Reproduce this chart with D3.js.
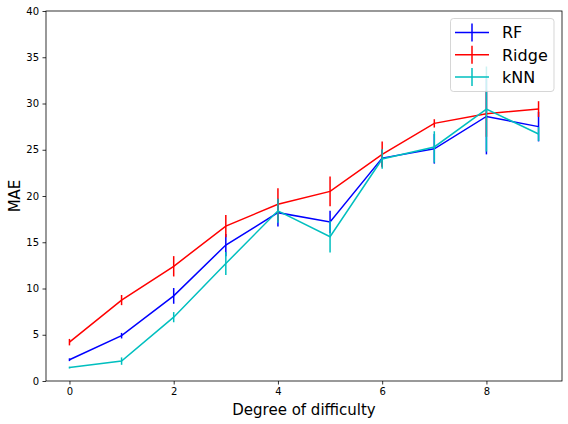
<!DOCTYPE html>
<html>
<head>
<meta charset="utf-8">
<script src="https://cdn.jsdelivr.net/npm/d3@7"></script>
<style>
  html, body { margin: 0; padding: 0; background: #fff; }
  svg { display: block; font-family: "DejaVu Sans", sans-serif; }
</style>
</head>
<body>
<svg id="chart" width="568" height="424"></svg>
<script>
// ---- data ----
const difficulty = [0, 1, 2, 3, 4, 5, 6, 7, 8, 9];
const rfMean    = [2.3, 4.9, 9.2, 14.7, 18.2, 17.2, 24.1, 25.1, 28.6, 27.5];
const rfErr     = [0.15, 0.3, 0.85, 1.2, 1.5, 1.2, 0.9, 1.6, 4.1, 1.6];
const ridgeMean = [4.2, 8.75, 12.4, 16.75, 19.1, 20.5, 24.5, 27.85, 28.9, 29.4];
const ridgeErr  = [0.35, 0.55, 1.1, 1.2, 1.75, 1.6, 1.4, 0.45, 2.5, 0.85];
const knnMean   = [1.45, 2.15, 6.9, 12.7, 18.4, 15.6, 24.0, 25.3, 29.4, 26.7];
const knnErr    = [0.1, 0.4, 0.55, 1.25, 1.3, 1.7, 1.05, 1.7, 4.6, 0.75];
const seriesNames  = ["RF", "Ridge", "kNN"];
const seriesColors = ["#0000ff", "#ff0000", "#00bfbf"];
const xTicks = [0, 2, 4, 6, 8];
const yTicks = [0, 5, 10, 15, 20, 25, 30, 35, 40];

const series = [
  { name: seriesNames[0], color: seriesColors[0], mean: rfMean, err: rfErr },
  { name: seriesNames[1], color: seriesColors[1], mean: ridgeMean, err: ridgeErr },
  { name: seriesNames[2], color: seriesColors[2], mean: knnMean, err: knnErr }
];

// ---- layout ----
const svg = d3.select("#chart");
const L = 46, R = 562, T = 11, B = 381;
const x = d3.scaleLinear().domain([-0.45, 9.45]).range([L, R]);
const y = d3.scaleLinear().domain([0, 40]).range([B, T]);

const plot = svg.append("g");

// series
series.forEach(s => {
  const g = plot.append("g");
  const line = d3.line().x((d, i) => x(difficulty[i])).y(d => y(d));
  g.append("path")
    .datum(s.mean)
    .attr("d", line)
    .attr("fill", "none")
    .attr("stroke", s.color)
    .attr("stroke-width", 1.5);
  g.selectAll("line.err")
    .data(s.mean)
    .enter().append("line")
    .attr("class", "err")
    .attr("x1", (d, i) => x(difficulty[i]))
    .attr("x2", (d, i) => x(difficulty[i]))
    .attr("y1", (d, i) => y(d - s.err[i]))
    .attr("y2", (d, i) => y(d + s.err[i]))
    .attr("stroke", s.color)
    .attr("stroke-width", 1.5);
});

// axes
const xAxis = d3.axisBottom(x).tickValues(xTicks).tickSize(3.5).tickPadding(3.5).tickFormat(d3.format("d"));
const yAxis = d3.axisLeft(y).tickValues(yTicks).tickSize(3.5).tickPadding(3.5).tickFormat(d3.format("d"));

const gx = svg.append("g").attr("transform", `translate(0,${B})`).call(xAxis);
const gy = svg.append("g").attr("transform", `translate(${L},0)`).call(yAxis);
[gx, gy].forEach(g => {
  g.select(".domain").remove();
  g.selectAll(".tick line").attr("stroke", "#000").attr("stroke-width", 0.8);
  g.selectAll(".tick text").attr("fill", "#000").style("font-size", "10px")
    .style("font-family", "'DejaVu Sans', sans-serif");
});

// frame
svg.append("rect")
  .attr("x", L).attr("y", T).attr("width", R - L).attr("height", B - T)
  .attr("fill", "none").attr("stroke", "#000").attr("stroke-width", 0.8);

// axis labels
svg.append("text")
  .attr("x", (L + R) / 2).attr("y", 415)
  .attr("text-anchor", "middle")
  .style("font-size", "15px")
  .text("Degree of difficulty");
svg.append("text")
  .attr("transform", `translate(20,${(T + B) / 2}) rotate(-90)`)
  .attr("text-anchor", "middle")
  .style("font-size", "15px")
  .text("MAE");

// legend
const lg = svg.append("g");
lg.append("rect")
  .attr("x", 450.5).attr("y", 18.5).attr("width", 103.5).attr("height", 73)
  .attr("rx", 3).attr("ry", 3)
  .attr("fill", "#fff").attr("fill-opacity", 0.8)
  .attr("stroke", "#cccccc").attr("stroke-opacity", 0.8).attr("stroke-width", 1);
series.forEach((s, i) => {
  const cy = 32.5 + i * 22.2;
  lg.append("line").attr("x1", 455).attr("x2", 489).attr("y1", cy).attr("y2", cy)
    .attr("stroke", s.color).attr("stroke-width", 1.5);
  lg.append("line").attr("x1", 472).attr("x2", 472).attr("y1", cy - 9).attr("y2", cy + 9)
    .attr("stroke", s.color).attr("stroke-width", 1.5);
  lg.append("text").attr("x", 502).attr("y", cy + 5.8)
    .style("font-size", "16px").text(s.name);
});
</script>
</body>
</html>
